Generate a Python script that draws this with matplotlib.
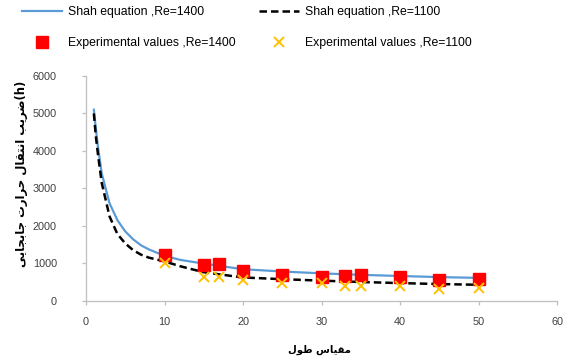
import matplotlib
matplotlib.use('Agg')
import matplotlib.pyplot as plt

# Shah equation curves
x_eq = [1, 1.25, 1.5, 2, 3, 4, 5, 6, 7, 8, 10, 12, 15, 20, 25, 30, 35, 40, 45, 50]
h_shah_1400 = [5100, 4600, 4150, 3400, 2600, 2150, 1850, 1640, 1480, 1370, 1200, 1090, 990, 840, 780, 730, 690, 660, 630, 610]
h_shah_1100 = [5000, 4400, 3950, 3150, 2250, 1780, 1530, 1350, 1230, 1150, 1050, 920, 760, 620, 575, 535, 500, 470, 445, 425]

# measured points
x_exp = [10, 15, 17, 20, 25, 30, 33, 35, 40, 45, 50]
h_exp_1400 = [1220, 950, 990, 790, 690, 640, 660, 685, 640, 550, 570]
h_exp_1100 = [1000, 640, 640, 550, 480, 465, 390, 390, 390, 300, 330]

labels = ['Shah equation ,Re=1400', 'Shah equation ,Re=1100',
          'Experimental values ,Re=1400', 'Experimental values ,Re=1100']

# Persian axis titles, written in shaped visual order
ylab = ('\uFBFD\uFBFE\uFE8E\uFEA0\uFE91\uFE8E\uFE9F' + ' ' +
        '\uFE95\uFEAD\uFE8D\uFEAE\uFEA3' + ' ' +
        '\uFEDD\uFE8E\uFED8\uFE98\uFEE7\uFE8D' + ' ' +
        '\uFE90\uFBFE\uFEAE\uFEBF' + '(h)')
xlab = '\uFEDD\uFEEE\uFEC3' + ' ' + '\uFEB1\uFE8E\uFBFF\uFED8\uFEE3'

plt.rcParams['font.family'] = ['Liberation Sans', 'DejaVu Sans']

fig = plt.figure(figsize=(5.68, 3.62), dpi=100)
ax = fig.add_axes([86 / 568, 1 - 300.7 / 362, (557 - 86) / 568, (300.7 - 76) / 362])

l1, = ax.plot(x_eq, h_shah_1400, color='#5B9BD5', lw=1.6, zorder=2)
l2, = ax.plot(x_eq, h_shah_1100, color='black', lw=1.8, ls=(0, (3, 1.6)), zorder=3)
m1, = ax.plot(x_exp, h_exp_1400, ls='none', marker='s', ms=8.2, color='#FF0000', zorder=4)
m2, = ax.plot(x_exp, h_exp_1100, ls='none', marker='x', ms=6.5, mew=1.4, color='#FFC000', zorder=5)

ax.set_xlim(0, 60)
ax.set_ylim(0, 6000)
ax.set_xticks(range(0, 61, 10))
ax.set_yticks(range(0, 6001, 1000))

for side in ['top', 'right']:
    ax.spines[side].set_visible(False)
for side in ['left', 'bottom']:
    ax.spines[side].set_color('#BFBFBF')
    ax.spines[side].set_linewidth(0.9)
ax.tick_params(axis='both', colors='#BFBFBF', length=3, width=0.9,
               labelcolor='#404040', labelsize=7.8)
ax.tick_params(axis='x', pad=9)
ax.tick_params(axis='y', pad=18)

fig.text(320 / 568, 1 - 350 / 362, xlab, family='DejaVu Sans', fontsize=7.2,
         fontweight='bold', ha='center', va='center')
fig.text(22 / 568, 1 - 174 / 362, ylab, family='DejaVu Sans', fontsize=8.4,
         fontweight='bold', rotation=90, ha='center', va='center')

fig.legend([l1, m1, l2, m2], [labels[0], labels[2], labels[1], labels[3]],
           ncol=2, loc='upper left', bbox_to_anchor=(22 / 568, 1 - 6 / 362),
           frameon=False, fontsize=8.8, handlelength=3.3, handletextpad=0.45,
           columnspacing=1.9, labelspacing=1.55, borderpad=0, borderaxespad=0)

fig.savefig('out.png', dpi=100)
